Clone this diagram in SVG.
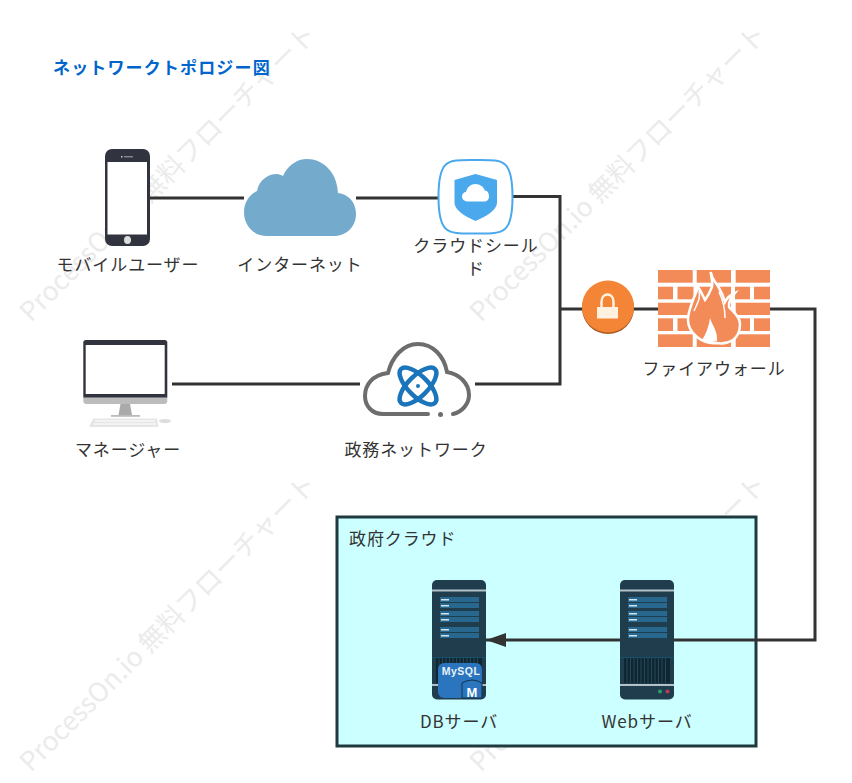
<svg xmlns="http://www.w3.org/2000/svg" xmlns:xlink="http://www.w3.org/1999/xlink" width="852" height="783" viewBox="0 0 852 783">
<style>
text{font-family:"Noto Sans CJK JP","Liberation Sans",sans-serif}
.lbl{font-size:17px;letter-spacing:0.900px;fill:#333;text-anchor:middle}
.wm{font-size:26.500px;fill:#ebebeb}
.conn{fill:none;stroke:#333;stroke-width:3}
.brick{fill:#f38b58}
.bar{fill:#29688e}
.tick{fill:#d5e3ea}
</style>
<defs>
<marker id="arrow" markerUnits="userSpaceOnUse" markerWidth="22" markerHeight="16" refX="20" refY="8" orient="auto"><path d="M0 8L20 1V15Z" fill="#333" transform="translate(20,0) scale(-1,1)"/></marker>
<g id="srv">
<rect x="0" y="0" width="54" height="119.500" rx="5" fill="#1f3d4d"/>
<rect x="0" y="9.500" width="54" height="2" fill="#b3c1c8"/>
<g class="bar"><rect x="8" y="17" width="39" height="5"/><rect x="8" y="23" width="39" height="5"/><rect x="8" y="31" width="39" height="5"/><rect x="8" y="37" width="39" height="5"/><rect x="8" y="47" width="39" height="5"/><rect x="8" y="53" width="39" height="5"/></g>
<g class="tick"><rect x="9" y="19" width="8" height="1.500"/><rect x="9" y="25" width="8" height="1.500"/><rect x="9" y="33" width="8" height="1.500"/><rect x="9" y="39" width="8" height="1.500"/><rect x="9" y="49" width="8" height="1.500"/><rect x="9" y="55" width="8" height="1.500"/></g>
<rect x="0" y="77" width="54" height="1.200" fill="#17506a"/>
<rect x="4" y="78" width="46" height="25" fill="#0f2633"/>
<path d="M7 78V103M10.500 78V103M14 78V103M17.500 78V103M21 78V103M24.500 78V103M28 78V103M31.500 78V103M35 78V103M38.500 78V103M42 78V103M45.500 78V103" stroke="#27485a" stroke-width="1"/>
<rect x="0" y="104" width="54" height="2" fill="#b3c1c8"/>
</g>
</defs>
<rect width="852" height="783" fill="#fff"/>
<g id="watermarks">
<text class="wm" transform="translate(31,323) rotate(-45)">ProcessOn.io 無料フローチャート</text>
<text class="wm" transform="translate(481,323) rotate(-45)">ProcessOn.io 無料フローチャート</text>
<text class="wm" transform="translate(31,773) rotate(-45)">ProcessOn.io 無料フローチャート</text>
<text class="wm" transform="translate(481,773) rotate(-45)">ProcessOn.io 無料フローチャート</text>
</g>
<text id="title" x="53" y="74" font-size="17" font-weight="700" fill="#0066cc" letter-spacing="1.150">ネットワークトポロジー図</text>
<g id="gov-cloud-zone">
<rect x="337" y="517" width="419" height="229" fill="#ccffff" stroke="#1e3a3f" stroke-width="3"/>
<text x="349" y="545" font-size="17" letter-spacing="0.900" fill="#333">政府クラウド</text>
</g>
<g id="connectors">
<path class="conn" d="M150 198H244"/>
<path class="conn" d="M356 198H438"/>
<path class="conn" d="M513 196.500H560V384H475"/>
<path class="conn" d="M172 384H360"/>
<path class="conn" d="M560 309H658"/>
<path class="conn" d="M770 309H815V640H486" marker-end="url(#arrow)"/>
</g>
<g id="mobile-user">
<rect x="105" y="149" width="45" height="97" rx="7" fill="#31343f"/>
<rect x="107.500" y="162" width="39.500" height="72.500" fill="#fff"/>
<rect x="121" y="156" width="1.500" height="1.500" fill="#ccc"/><rect x="124" y="156.300" width="9" height="1" fill="#aaa"/>
<ellipse cx="127.500" cy="240" rx="3.500" ry="4" fill="#ddd"/>
<text class="lbl" x="128" y="271">モバイルユーザー</text>
</g>
<g id="internet">
<path d="M267 236C253 236 244 225 244 212C244 202 250 194 257 191C259 180 268 174 277 174C279 174 281 175 283 176C288 165 297 159 307 159C323 159 337 172 338 193C349 194 356 203 356 214C356 226 347 236 334 236Z" fill="#74abcd"/>
<text class="lbl" x="300" y="271">インターネット</text>
</g>
<g id="cloud-shield">
<path d="M475.500 160C503 160 512.500 158 512.500 197C512.500 235 503 233.500 475.500 233.500C448 233.500 438.500 235 438.500 197C438.500 158 448 160 475.500 160Z" fill="#fff" stroke="#4aa8ec" stroke-width="2"/>
<path d="M454.500 180L475.500 174L497 180V203C497 210 485 217 475.500 221C466 217 454.500 210 454.500 203Z" fill="#4aa8ec"/>
<path d="M468 201.500C464 201.500 462 199 462 196.500C462 193.500 464 192 466 192C467 187 471 184 475.500 184C480 184 484 187 485 191C487 190 489 193 489 196.500C489 199.500 487 201.500 484 201.500Z" fill="#fff"/>
<text class="lbl" text-anchor="middle" y="252"><tspan x="476">クラウドシール</tspan><tspan x="476" dy="23">ド</tspan></text>
</g>
<g id="lock">
<circle cx="608" cy="308" r="26" fill="#a85a24"/>
<circle cx="608" cy="306.500" r="26" fill="#f58536"/>
<rect x="597" y="307" width="21" height="11.500" fill="#fff1e0"/>
<path d="M601.500 307V302C601.500 292 613.500 292 613.500 302V307" fill="none" stroke="#fff1e0" stroke-width="2.500"/>
</g>
<g id="firewall">
<g class="brick">
<rect x="658" y="270" width="34.700" height="12.700"/><rect x="696.700" y="270" width="34.300" height="12.700"/><rect x="735.700" y="270" width="34.300" height="12.700"/>
<rect x="658" y="286.700" width="15" height="12.600"/><rect x="677.500" y="286.700" width="16" height="12.600"/><rect x="697" y="286.700" width="34" height="12.600"/><rect x="735" y="286.700" width="15" height="12.600"/><rect x="754" y="286.700" width="16" height="12.600"/>
<rect x="658" y="302.700" width="34.700" height="12.300"/><rect x="696.700" y="302.700" width="34.300" height="12.300"/><rect x="735.700" y="302.700" width="34.300" height="12.300"/>
<rect x="658" y="318.300" width="15" height="12.700"/><rect x="677.500" y="318.300" width="16" height="12.700"/><rect x="697" y="318.300" width="34" height="12.700"/><rect x="735" y="318.300" width="15" height="12.700"/><rect x="754" y="318.300" width="16" height="12.700"/>
<rect x="658" y="334.300" width="34.700" height="12.700"/><rect x="696.700" y="334.300" width="34.300" height="12.700"/><rect x="735.700" y="334.300" width="34.300" height="12.700"/>
</g>
<path d="M710.700 272C712 280 716 282 719 288C722 293 724 298 725 302C727 298 730 295 735 293C731 298 728 302 729 307C733 312 740 316 740 324C740 332 737 337 733 340C728 343 722 344 717 343C708 344 702 341 697 337C691 332 688 327 688 320C688 312 691 306 693 300C695 295 697 291 698 287C701 291 703 296 705 300C708 296 710 292 712 287C713 282 711 277 710.700 272Z" fill="#f38b58" stroke="#fff" stroke-width="2.500"/>
<path d="M699 291C701 298 697 304 694 311M719 292C723 300 725 308 725 318" fill="none" stroke="#fff" stroke-width="1.500"/>
<path d="M710 318C712 325 718 331 717 341C712 343 706 342 702 340C706 334 709 326 710 318Z" fill="#fff"/>
<text class="lbl" x="714" y="375">ファイアウォール</text>
</g>
<g id="manager">
<path d="M83.300 397.700V342.500Q83.300 340 86 340H164.500Q167.300 340 167.300 342.500V397.700Z" fill="#31343f"/>
<rect x="85.700" y="345" width="79" height="49" fill="#fff"/>
<path d="M83.300 397.700H167.300V401Q167.300 404 164 404H86.500Q83.300 404 83.300 401Z" fill="#bcbcbc"/>
<path d="M120.500 404H130L132 415H118.500Z" fill="#aaa"/>
<rect x="111" y="415" width="29" height="1.800" fill="#bbb"/>
<path d="M93 418.500H157L158.500 427H89Z" fill="#e6e6e6"/>
<path d="M95 421H155M94 424H156" stroke="#fff" stroke-width="1"/>
<ellipse cx="165" cy="421" rx="6" ry="2" fill="#ddd"/>
<text class="lbl" x="128" y="456">マネージャー</text>
</g>
<g id="gov-network">
<path d="M428 414H383C372 414 365 406 365 396C365 385 372 375 388 373C392 357 403 344 418 344C433 344 444 356 447 372C459 374 469 383 469 395C469 404 462 412 453 414" fill="none" stroke="#6d6d6d" stroke-width="4" stroke-linecap="round"/>
<circle cx="440.500" cy="414.500" r="2.500" fill="#6d6d6d"/>
<g fill="none" stroke="#1a75bb" stroke-width="4.500"><ellipse cx="418" cy="386" rx="24" ry="10" transform="rotate(45 418 386)"/><ellipse cx="418" cy="386" rx="24" ry="10" transform="rotate(-45 418 386)"/></g>
<rect x="412.500" y="382" width="11" height="8" transform="rotate(-45 418 386)" fill="#fff"/>
<circle cx="418" cy="386" r="2" fill="#1a75bb"/>
<text class="lbl" x="416" y="456">政務ネットワーク</text>
</g>
<g id="db-server">
<use xlink:href="#srv" href="#srv" x="432" y="580"/>
<rect x="438" y="663" width="44" height="35" rx="6" fill="#2a75bd"/>
<text x="461" y="674.500" font-size="10.500" font-weight="700" letter-spacing="0.500" fill="#e8f2fa" text-anchor="middle" style="font-family:'Liberation Sans',sans-serif">MySQL</text>
<path d="M462 683Q472 677 482 683V698H462Z" fill="#2a75bd" stroke="#12344d" stroke-width="1"/>
<text x="472" y="697" font-size="13" font-weight="700" fill="#fff" text-anchor="middle" style="font-family:'Liberation Sans',sans-serif">M</text>
<text class="lbl" x="459" y="728">DBサーバ</text>
</g>
<g id="web-server">
<use xlink:href="#srv" href="#srv" x="620" y="580"/>
<circle cx="660" cy="691.500" r="2" fill="#2a9d6f"/>
<circle cx="667.500" cy="691.500" r="2" fill="#c0395b"/>
<text class="lbl" x="647" y="728">Webサーバ</text>
</g>
</svg>
